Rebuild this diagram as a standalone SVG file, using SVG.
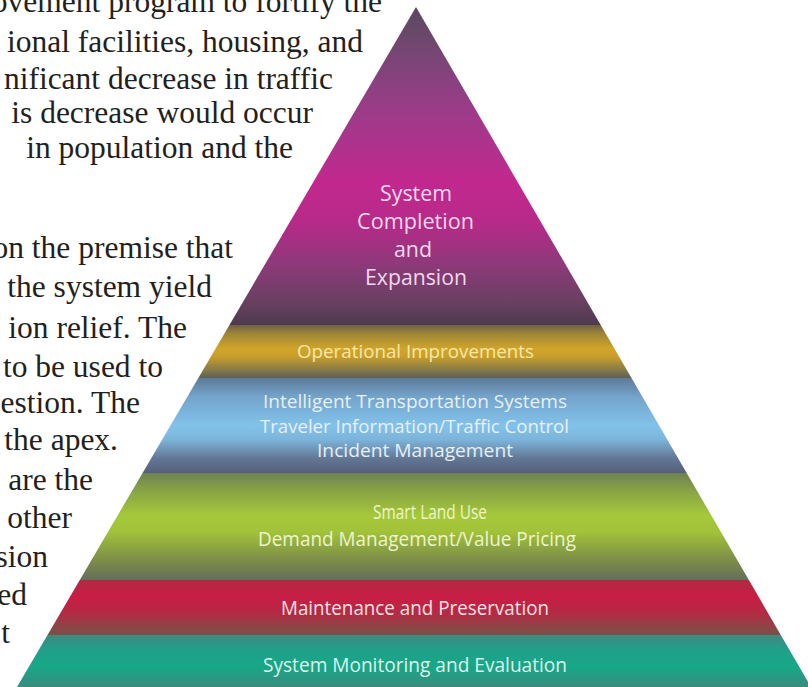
<svg xmlns="http://www.w3.org/2000/svg" width="808" height="687" viewBox="0 0 808 687">
<style>
.doc{font-family:"Liberation Serif","Times New Roman",serif;font-size:31.5px;fill:#231f20;text-anchor:end}
.lbl{font-family:"Open Sans","Noto Sans",sans-serif;text-anchor:middle}
.big{font-size:21.5px;fill:#f3d8ec}
.sm{font-size:18.5px}
.md{font-size:20px}
</style>
<defs>
<clipPath id="pyr"><polygon points="416,7 17,687 811,687"/></clipPath>
<linearGradient id="gPurple" gradientUnits="userSpaceOnUse" x1="0" y1="7" x2="0" y2="325">
<stop offset="0" stop-color="#584a5c"/><stop offset="0.15" stop-color="#784676"/><stop offset="0.35" stop-color="#a03a8a"/><stop offset="0.55" stop-color="#c2288e"/><stop offset="0.68" stop-color="#b62a88"/><stop offset="0.82" stop-color="#8a3a78"/><stop offset="0.93" stop-color="#684060"/><stop offset="1" stop-color="#4c3a4e"/>
</linearGradient>
<linearGradient id="gYellow" gradientUnits="userSpaceOnUse" x1="0" y1="325" x2="0" y2="378">
<stop offset="0" stop-color="#6e6048"/><stop offset="0.15" stop-color="#9a8436"/><stop offset="0.45" stop-color="#d2a52a"/><stop offset="0.6" stop-color="#c89e2c"/><stop offset="0.85" stop-color="#857a48"/><stop offset="1" stop-color="#5e6058"/>
</linearGradient>
<linearGradient id="gBlue" gradientUnits="userSpaceOnUse" x1="0" y1="378" x2="0" y2="473">
<stop offset="0" stop-color="#5e7a98"/><stop offset="0.2" stop-color="#74a4cc"/><stop offset="0.5" stop-color="#82c2ea"/><stop offset="0.65" stop-color="#7cb4da"/><stop offset="0.85" stop-color="#627694"/><stop offset="1" stop-color="#56607a"/>
</linearGradient>
<linearGradient id="gGreen" gradientUnits="userSpaceOnUse" x1="0" y1="473" x2="0" y2="580">
<stop offset="0" stop-color="#6e8252"/><stop offset="0.15" stop-color="#86a046"/><stop offset="0.4" stop-color="#a6c83a"/><stop offset="0.55" stop-color="#a2c23a"/><stop offset="0.8" stop-color="#7e9048"/><stop offset="1" stop-color="#646e5a"/>
</linearGradient>
<linearGradient id="gRed" gradientUnits="userSpaceOnUse" x1="0" y1="580" x2="0" y2="635">
<stop offset="0" stop-color="#b02a42"/><stop offset="0.3" stop-color="#c81d45"/><stop offset="0.6" stop-color="#b42a44"/><stop offset="0.85" stop-color="#8e4446"/><stop offset="1" stop-color="#7a5048"/>
</linearGradient>
<linearGradient id="gTeal" gradientUnits="userSpaceOnUse" x1="0" y1="635" x2="0" y2="687">
<stop offset="0" stop-color="#3e8a80"/><stop offset="0.3" stop-color="#20a08a"/><stop offset="0.6" stop-color="#16a888"/><stop offset="1" stop-color="#3a8c7e"/>
</linearGradient>
</defs>
<rect width="808" height="687" fill="#ffffff"/>

<g id="document-text">
<text class="doc" x="382" y="12">ovement program to fortify the</text>
<text class="doc" x="363" y="52">ional facilities, housing, and</text>
<text class="doc" x="333" y="89">nificant decrease in traffic</text>
<text class="doc" x="313" y="123">is decrease would occur</text>
<text class="doc" x="293" y="158">in population and the</text>
<text class="doc" x="233" y="258">on the premise that</text>
<text class="doc" x="212" y="297">the system yield</text>
<text class="doc" x="187" y="338">ion relief. The</text>
<text class="doc" x="163" y="377">to be used to</text>
<text class="doc" x="140" y="413">estion. The</text>
<text class="doc" x="118" y="450">the apex.</text>
<text class="doc" x="93" y="490">are the</text>
<text class="doc" x="72" y="528">other</text>
<text class="doc" x="48" y="567">sion</text>
<text class="doc" x="27" y="605">ed</text>
<text class="doc" x="10" y="643">t</text>
</g>

<g id="pyramid" clip-path="url(#pyr)">
<g id="band-system-completion">
<rect x="0" y="0" width="808" height="325" fill="url(#gPurple)"/>
</g>
<g id="band-operational">
<rect x="0" y="325" width="808" height="53" fill="url(#gYellow)"/>
</g>
<g id="band-its">
<rect x="0" y="378" width="808" height="95" fill="url(#gBlue)"/>
</g>
<g id="band-land-use">
<rect x="0" y="473" width="808" height="107" fill="url(#gGreen)"/>
</g>
<g id="band-maintenance">
<rect x="0" y="580" width="808" height="55" fill="url(#gRed)"/>
</g>
<g id="band-monitoring">
<rect x="0" y="635" width="808" height="52" fill="url(#gTeal)"/>
</g>
</g>

<g id="labels">
<g id="label-system-completion">
<text class="lbl big" x="416" y="201" textLength="72" lengthAdjust="spacingAndGlyphs">System</text>
<text class="lbl big" x="415.5" y="229" textLength="117" lengthAdjust="spacingAndGlyphs">Completion</text>
<text class="lbl big" x="413" y="257" textLength="38" lengthAdjust="spacingAndGlyphs">and</text>
<text class="lbl big" x="416" y="285" textLength="102" lengthAdjust="spacingAndGlyphs">Expansion</text>
</g>
<g id="label-operational">
<text class="lbl sm" x="415.5" y="358" fill="#f6e7a8" textLength="237" lengthAdjust="spacingAndGlyphs">Operational Improvements</text>
</g>
<g id="label-its">
<text class="lbl sm" x="415" y="408" fill="#e8eff6" textLength="304" lengthAdjust="spacingAndGlyphs">Intelligent Transportation Systems</text>
<text class="lbl sm" x="414.5" y="433" fill="#e8eff6" textLength="309" lengthAdjust="spacingAndGlyphs">Traveler Information/Traffic Control</text>
<text class="lbl sm" x="415" y="457" fill="#e8eff6" textLength="196" lengthAdjust="spacingAndGlyphs">Incident Management</text>
</g>
<g id="label-land-use">
<text class="lbl md" x="430" y="519" fill="#eef4cc" textLength="114" lengthAdjust="spacingAndGlyphs">Smart Land Use</text>
<text class="lbl md" x="417" y="546" fill="#eef4cc" textLength="318" lengthAdjust="spacingAndGlyphs">Demand Management/Value Pricing</text>
</g>
<g id="label-maintenance">
<text class="lbl md" x="415" y="615" fill="#f6e2e2" textLength="268" lengthAdjust="spacingAndGlyphs">Maintenance and Preservation</text>
</g>
<g id="label-monitoring">
<text class="lbl md" x="415" y="672" fill="#dff3ec" textLength="304" lengthAdjust="spacingAndGlyphs">System Monitoring and Evaluation</text>
</g>
</g>
</svg>
